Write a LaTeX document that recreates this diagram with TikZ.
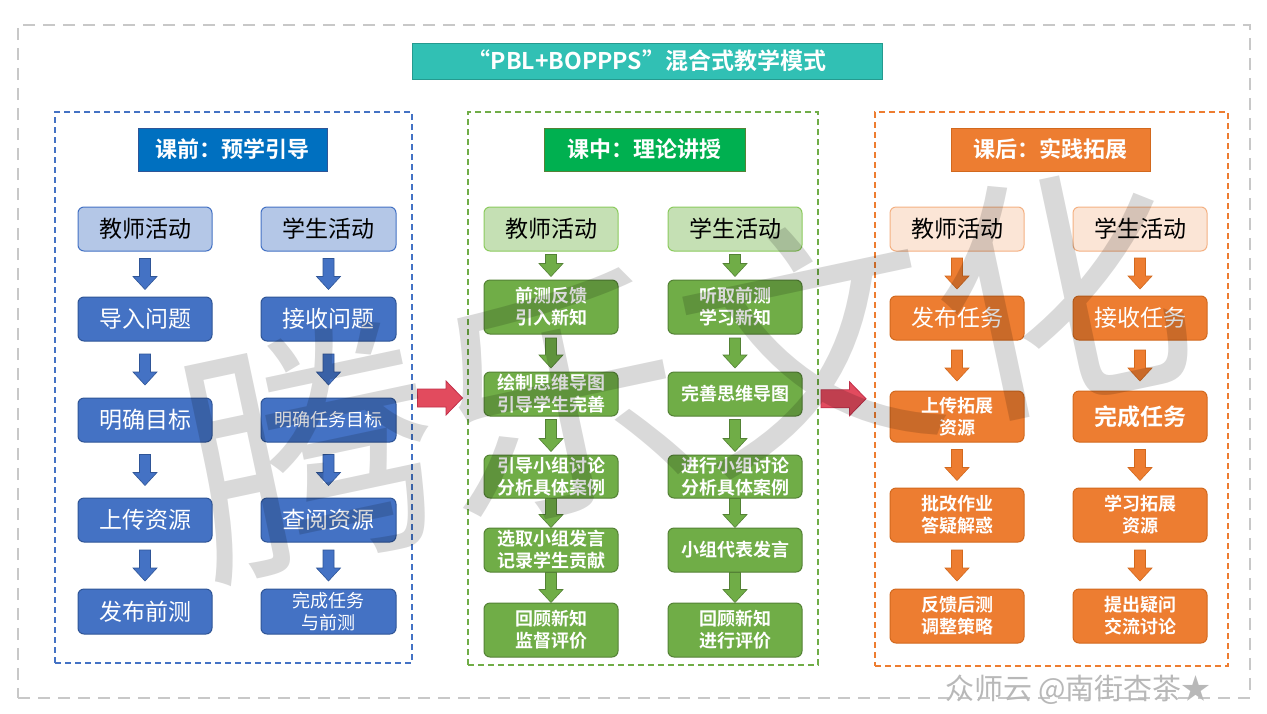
\documentclass[tikz,border=0pt]{standalone}
\usepackage{fontspec}
\setmainfont{Noto Sans CJK SC}[BoldFont={Noto Sans CJK SC Bold}]
\usetikzlibrary{calc}
\definecolor{bfill}{HTML}{4472C4}
\definecolor{bedge}{HTML}{2F5597}
\definecolor{lbfill}{HTML}{B4C7E7}
\definecolor{gfill}{HTML}{70AD47}
\definecolor{gedge}{HTML}{548235}
\definecolor{lgfill}{HTML}{C5E0B4}
\definecolor{lgedge}{HTML}{8CCB5E}
\definecolor{ofill}{HTML}{ED7D31}
\definecolor{oedge}{HTML}{D2691E}
\definecolor{lofill}{HTML}{FBE5D6}
\definecolor{loedge}{HTML}{F4B183}
\definecolor{teal}{HTML}{31C0B4}
\definecolor{tealedge}{HTML}{259A8F}
\definecolor{hblue}{HTML}{0070C0}
\definecolor{hgreen}{HTML}{00B050}
\definecolor{redarrow}{HTML}{E24B5E}
\definecolor{rededge}{HTML}{C0304A}
\definecolor{outergray}{HTML}{C8C8C8}
\tikzset{
  box/.style={rounded corners=6, line width=1, inner sep=0, align=center,
    minimum width=134, minimum height=44, text=white},
  big/.style={font=\fontsize{23}{26}\selectfont},
  small/.style={font=\fontsize{18}{22}\selectfont},
  smallb/.style={font=\bfseries\fontsize{18}{22}\selectfont},
  bigb/.style={font=\bfseries\fontsize{23}{26}\selectfont},
  lblue/.style={box, big, fill=lbfill, draw=bfill, text=black},
  dblue/.style={box, fill=bfill, draw=bedge},
  lgreen/.style={box, big, fill=lgfill, draw=lgedge, text=black},
  dgreen/.style={box, fill=gfill, draw=gedge},
  lorange/.style={box, big, fill=lofill, draw=loedge, text=black},
  dorange/.style={box, fill=ofill, draw=oedge},
  panel/.style={line width=1.5, dash pattern=on 6 off 4, inner sep=0},
  header/.style={inner sep=0, line width=1, text=white, minimum height=43,
    font=\bfseries\fontsize{22}{24}\selectfont},
  barrow/.style={fill=bfill, draw=bedge, line width=0.6},
  garrow/.style={fill=gfill, draw=gedge, line width=0.6},
  oarrow/.style={fill=ofill, draw=oedge, line width=0.6},
  rarrow/.style={fill=redarrow, draw=rededge, line width=0.8},
  pics/varrow/.style={code={
    \path[pic actions] ({-5.5},{-#1/2}) -- ({5.5},{-#1/2}) -- ({5.5},{#1/2-13})
      -- ({12},{#1/2-13}) -- ({0},{#1/2}) -- ({-12},{#1/2-13}) -- ({-5.5},{#1/2-13}) -- cycle;
  }},
  pics/harrow/.style={code={
    \path[pic actions] (-22.5,-9) -- (6,-9) -- (6,-17) -- (22.5,0) -- (6,17) -- (6,9) -- (-22.5,9) -- cycle;
  }},
}
\begin{document}
\begin{tikzpicture}[x=1pt,y=-1pt]
\useasboundingbox (0,0) rectangle (1267,713);
\fill[white] (0,0) rectangle (1267,713);

% outer frame
\node[draw=outergray, line width=2.5, dash pattern=on 12 off 8, inner sep=0,
  minimum width=1232, minimum height=673] (outer) at (634,361.5) {};

% title
\node[fill=teal, draw=tealedge, line width=1, inner sep=0, minimum width=470, minimum height=36,
  text=white, font=\bfseries\fontsize{23}{26}\selectfont] (title) at (647,61) {“PBL+BOPPPS”混合式教学模式};

% panels
\node[panel, draw=bfill, minimum width=357, minimum height=551] (p1) at (233.5,387.5) {};
\node[panel, draw=gfill, minimum width=350, minimum height=553] (p2) at (643,388.5) {};
\node[panel, draw=ofill, minimum width=353, minimum height=554] (p3) at (1051.5,389) {};

% headers
\node[header, fill=hblue, draw=bedge, minimum width=189] (h1) at (232.5,149.5) {课前：预学引导};
\node[header, fill=hgreen, draw=gedge, minimum width=201] (h2) at (644.5,149.5) {课中：理论讲授};
\node[header, fill=ofill, draw=oedge, minimum width=199] (h3) at (1050.5,149.5) {课后：实践拓展};

% ---------- panel 1 ----------
\node[lblue] (a1) at (145,229) {教师活动};
\node[dblue, big] (a2) at (145,319) {导入问题};
\node[dblue, big] (a3) at (145,420) {明确目标};
\node[dblue, big] (a4) at (145,520) {上传资源};
\node[dblue, big, minimum height=45] (a5) at (145,611.5) {发布前测};
\node[lblue, minimum width=135] (b1) at (328.5,229) {学生活动};
\node[dblue, big, minimum width=135] (b2) at (328.5,319) {接收问题};
\node[dblue, small, minimum width=135] (b3) at (328.5,420) {明确任务目标};
\node[dblue, big, minimum width=135] (b4) at (328.5,520) {查阅资源};
\node[dblue, small, minimum width=135, minimum height=45] (b5) at (328.5,611.5) {完成任务\\与前测};
\foreach \u/\v in {a1/a2,a2/a3,a3/a4,a4/a5,b1/b2,b2/b3,b3/b4,b4/b5}
  \path ($(\u.south)!0.5!(\v.north)$) pic[barrow]{varrow=31};

% ---------- panel 2 ----------
\node[lgreen] (c1) at (551,229) {教师活动};
\node[dgreen, smallb, minimum height=54] (c2) at (551,307) {前测反馈\\引入新知};
\node[dgreen, smallb] (c3) at (551,394) {绘制思维导图\\引导学生完善};
\node[dgreen, smallb, minimum height=43] (c4) at (551,476.5) {引导小组讨论\\分析具体案例};
\node[dgreen, smallb] (c5) at (551,550) {选取小组发言\\记录学生贡献};
\node[dgreen, smallb, minimum height=54] (c6) at (551,630) {回顾新知\\监督评价};
\node[lgreen] (d1) at (735,229) {学生活动};
\node[dgreen, smallb, minimum height=54] (d2) at (735,307) {听取前测\\学习新知};
\node[dgreen, smallb] (d3) at (735,394) {完善思维导图};
\node[dgreen, smallb, minimum height=43] (d4) at (735,476.5) {进行小组讨论\\分析具体案例};
\node[dgreen, smallb] (d5) at (735,550) {小组代表发言};
\node[dgreen, smallb, minimum height=54] (d6) at (735,630) {回顾新知\\进行评价};
\foreach \u/\v/\l in {c1/c2/22,c2/c3/30,c3/c4/32,c4/c5/29,c5/c6/30,d1/d2/22,d2/d3/30,d3/d4/32,d4/d5/29,d5/d6/30}
  \path ($(\u.south)!0.5!(\v.north)$) pic[garrow]{varrow=\l};

% ---------- panel 3 ----------
\node[lorange] (e1) at (957,229) {教师活动};
\node[dorange, big] (e2) at (957,318) {发布任务};
\node[dorange, smallb, minimum height=51] (e3) at (957,416.5) {上传拓展\\资源};
\node[dorange, smallb, minimum height=54] (e4) at (957,515) {批改作业\\答疑解惑};
\node[dorange, smallb, minimum height=54] (e5) at (957,616) {反馈后测\\调整策略};
\node[lorange] (f1) at (1140,229) {学生活动};
\node[dorange, big] (f2) at (1140,318) {接收任务};
\node[dorange, bigb, minimum height=51] (f3) at (1140,416.5) {完成任务};
\node[dorange, smallb, minimum height=54] (f4) at (1140,515) {学习拓展\\资源};
\node[dorange, smallb, minimum height=54] (f5) at (1140,616) {提出疑问\\交流讨论};
\foreach \u/\v in {e1/e2,e2/e3,e3/e4,e4/e5,f1/f2,f2/f3,f3/f4,f4/f5}
  \path ($(\u.south)!0.5!(\v.north)$) pic[oarrow]{varrow=31};

% red arrows between panels
\path ($(p1.east)!0.5!(p2.west)$) ++(0,10) pic[rarrow]{harrow};
\path ($(p2.east)!0.5!(p3.west)$) ++(-3,10) pic[rarrow]{harrow};

% watermarks
\node[rotate=12, text=black, opacity=0.15, inner sep=0,
  font=\fontsize{255}{255}\selectfont] (wm) at (685,370) {腾乐文化};
\node[text=black!28, inner sep=0, font=\fontsize{29}{29}\selectfont] (wm2) at (1078,690) {众师云 @南街杏茶★};
\end{tikzpicture}
\end{document}
